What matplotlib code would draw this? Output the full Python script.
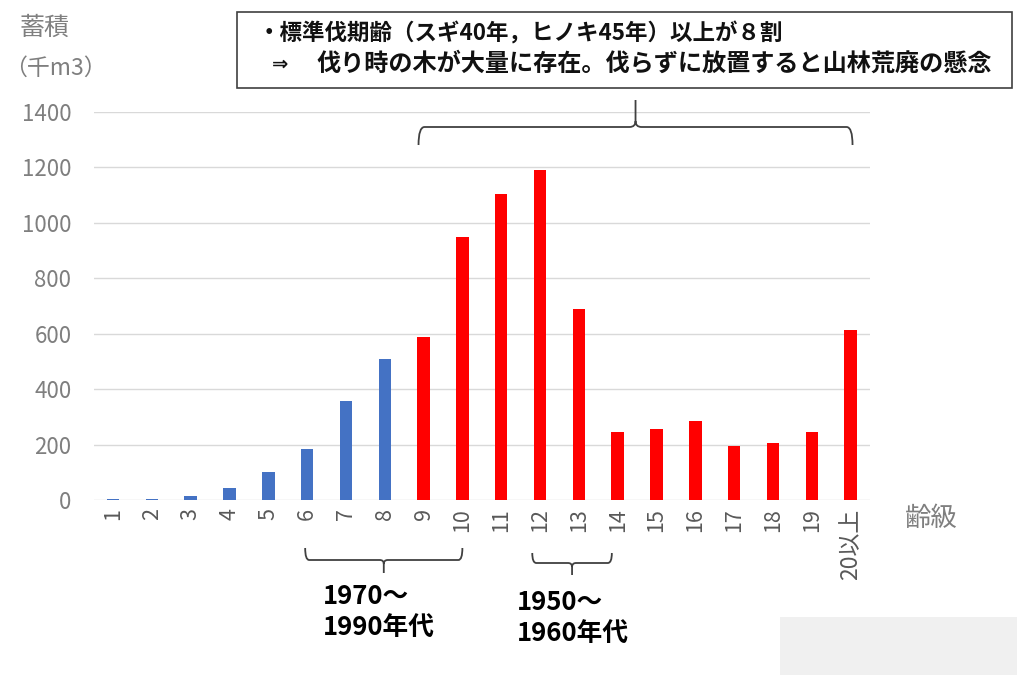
import matplotlib
matplotlib.use("Agg")
import matplotlib.pyplot as plt
from matplotlib.patches import Rectangle, PathPatch
from matplotlib.path import Path

plt.rcParams['font.family'] = ['Noto Sans CJK JP', 'DejaVu Sans']

# ---- data ----
age_classes = ["1", "2", "3", "4", "5", "6", "7", "8", "9", "10",
               "11", "12", "13", "14", "15", "16", "17", "18", "19", "20以上"]
volumes = [2, 3, 15, 45, 100, 185, 357, 508, 588, 950,
           1105, 1192, 690, 245, 255, 285, 195, 205, 245, 612]
young_count = 8  # classes 1-8 drawn in blue, rest in red
yticks = [0, 200, 400, 600, 800, 1000, 1200, 1400]

BLUE = "#4472C4"
RED = "#FF0000"
GRAY = "#7f7f7f"

W, H = 1017, 675
fig = plt.figure(figsize=(W / 100, H / 100), dpi=100)
fig.patch.set_facecolor("white")

# main axes
ax = fig.add_axes([93.6 / W, 1 - 500 / H, (870 - 93.6) / W, (500 - 112) / H])
x = list(range(1, len(volumes) + 1))
colors = [BLUE if i < young_count else RED for i in range(len(volumes))]
ax.bar(x, volumes, width=0.32, color=colors, zorder=3)
ax.set_xlim(0.5, 20.5)
ax.set_ylim(0, 1400)
ax.set_yticks(yticks)
ax.set_yticklabels([str(v) for v in yticks], fontsize=16, color=GRAY)
ax.set_xticks(x)
labels = ax.set_xticklabels(age_classes, rotation=90, fontsize=15.5, color="#595959", va="top")
labels[-1].set_fontsize(16.5)
ax.tick_params(axis="both", length=0)
ax.tick_params(axis="y", pad=16)
ax.tick_params(axis="x", pad=6)
ax.grid(axis="y", color="#d9d9d9", linewidth=1, zorder=0)
for s in ax.spines.values():
    s.set_visible(False)

# overlay axes in pixel coordinates (y downward)
ov = fig.add_axes([0, 0, 1, 1], zorder=5)
ov.set_xlim(0, W)
ov.set_ylim(H, 0)
ov.axis("off")
ov.patch.set_alpha(0)


def px(xd):
    return ax.transData.transform((xd, 0))[0]


def brace(x0, x1, y, depth, tip, r=6, color="#404040", lw=1.3):
    xm = (x0 + x1) / 2
    st = 1 if tip > 0 else -1
    verts = [(x0, y + depth), (x0, y), (x0 + r, y), (xm - r, y), (xm, y), (xm, y - st * r),
             (xm, y - tip),
             (xm, y - st * r), (xm, y), (xm + r, y), (x1 - r, y), (x1, y), (x1, y + depth)]
    codes = [Path.MOVETO, Path.CURVE3, Path.CURVE3, Path.LINETO, Path.CURVE3, Path.CURVE3,
             Path.LINETO,
             Path.MOVETO, Path.CURVE3, Path.CURVE3, Path.LINETO, Path.CURVE3, Path.CURVE3]
    ov.add_patch(PathPatch(Path(verts, codes), fill=False, edgecolor=color, lw=lw))


# bottom-right gray block
ov.add_patch(Rectangle((780, 617), W - 780, H - 617, facecolor="#f0f0f0", edgecolor="none"))

# annotation box
ov.add_patch(Rectangle((237, 12), 775, 76, facecolor="white", edgecolor="#404040", lw=1.2))
ov.text(258, 34, "・標準伐期齢（スギ40年，ヒノキ45年）以上が８割", fontsize=16.2,
        fontweight="bold", va="center", ha="left", color="#111111")
ov.text(272, 64, "⇒", fontsize=14, fontweight="bold", va="center", ha="left", color="#111111",
        family=["DejaVu Sans"])
ov.text(316, 64, "伐り時の木が大量に存在。伐らずに放置すると山林荒廃の懸念", fontsize=17.4,
        fontweight="bold", va="center", ha="left", color="#111111")

# braces
brace(px(8.87), px(20.05), 127, 18, 27)
brace(px(5.95), px(10.0), 560, -12, -13, r=4)
brace(px(11.8), px(13.85), 563, -10, -12, r=4)

# decade labels
ov.text(323, 596, "1970～", fontsize=18.5, fontweight="bold", va="center", ha="left")
ov.text(323, 628, "1990年代", fontsize=18.5, fontweight="bold", va="center", ha="left")
ov.text(517, 602, "1950～", fontsize=18.5, fontweight="bold", va="center", ha="left")
ov.text(517, 634, "1960年代", fontsize=18.5, fontweight="bold", va="center", ha="left")

# axis titles
ov.text(45, 28, "蓄積", fontsize=18, color=GRAY, va="center", ha="center")
ov.text(55, 68, "（千m3）", fontsize=16.5, color=GRAY, va="center", ha="center")
ov.text(931, 518, "齢級", fontsize=19, color=GRAY, va="center", ha="center")

fig.savefig("out.png", dpi=100)
